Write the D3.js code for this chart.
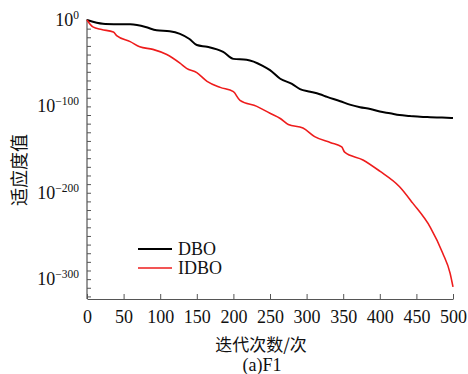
<!DOCTYPE html>
<html>
<head>
<meta charset="utf-8">
<script src="https://cdn.jsdelivr.net/npm/d3@7"></script>
<style>
body{margin:0;background:#fff;}
text{font-family:"Liberation Serif","DejaVu Serif",serif;fill:#111;}
.cjk{font-family:"Noto Sans CJK SC",sans-serif;}
</style>
</head>
<body>
<script>
// data (y values are log10 of fitness)
const dboIter = [0, 8, 25, 59, 80, 95, 113, 127, 140, 150, 164, 186, 200, 218, 240, 250, 264, 280, 291, 305, 318, 328, 346, 359, 373, 387, 400, 414, 427, 441, 455, 469, 485, 500];
const dboExp  = [0, -2, -4.6, -5, -8, -12, -13, -16, -22, -29, -31, -37, -45, -46, -53, -58, -68, -74, -80, -83, -86, -89, -94, -98, -101, -103, -106, -108, -110, -111, -112, -112.5, -113, -113.5];
const idboIter = [0, 8, 20, 36, 41, 59, 72, 90, 109, 127, 136, 150, 164, 182, 200, 209, 232, 250, 264, 275, 295, 311, 333, 348, 352, 377, 400, 427, 445, 469, 486, 496, 500];
const idboExp  = [0, -8, -11, -14, -18.5, -25, -31, -34, -40, -50, -56, -61, -71, -78, -83, -93, -100, -108, -114, -121, -125, -135, -142, -147, -153, -162, -175, -193, -212, -240, -270, -293, -309];
const xTicks = [0, 50, 100, 150, 200, 250, 300, 350, 400, 450, 500];
const yMajor = [0, -100, -200, -300];
const seriesNames = ['DBO', 'IDBO'];
const seriesColors = ['#000000', '#ee1c1c'];

const width = 468, height = 374;
const svg = d3.select('body').append('svg').attr('width', width).attr('height', height);

// scales
const x = d3.scaleLinear().domain([0, 500]).range([87, 453]);
const y = d3.scaleLinear().domain([-323, 0]).range([299, 20]);

// axes
const axisColor = '#555';
const gx = svg.append('g').attr('transform', 'translate(0,299)')
  .call(d3.axisBottom(x).tickValues(xTicks).tickSizeInner(-5).tickSizeOuter(0).tickPadding(11));
gx.selectAll('text').style('font-size', '18px').attr('fill', '#111');

let minor = d3.range(-320, 1, 10);
const gy = svg.append('g').attr('transform', 'translate(87,0)')
  .call(d3.axisLeft(y).tickValues(minor).tickSizeInner(-4).tickSizeOuter(0).tickFormat(''));
gy.select('.domain').attr('d', 'M0,' + y(-323) + 'V' + (y(0) - 1));

[gx, gy].forEach(g => {
  g.select('.domain').attr('stroke', axisColor).attr('stroke-width', 1.2);
  g.selectAll('.tick line').attr('stroke', axisColor);
});

// y tick labels as 10^n
const lab = svg.append('g');
yMajor.forEach(v => {
  const t = lab.append('text').attr('x', 79).attr('y', y(v) + 6).attr('text-anchor', 'end');
  t.append('tspan').style('font-size', '18px').text('10');
  t.append('tspan').attr('dy', -7).style('font-size', '11.5px').text(v === 0 ? '0' : '\u2212' + (-v));
});

// lines
const line = d3.line().x(d => x(d[0])).y(d => y(d[1])).curve(d3.curveMonotoneX);
const series = [d3.zip(dboIter, dboExp), d3.zip(idboIter, idboExp)];
svg.append('g').selectAll('path').data(series).join('path')
  .attr('d', line).attr('fill', 'none')
  .attr('stroke', (d, i) => seriesColors[i])
  .attr('stroke-width', (d, i) => i === 0 ? 2 : 1.6);

// legend
const leg = svg.append('g');
seriesNames.forEach((n, i) => {
  const yy = 249 + i * 19;
  leg.append('line').attr('x1', 138).attr('x2', 172).attr('y1', yy).attr('y2', yy)
    .attr('stroke', seriesColors[i]).attr('stroke-width', i === 0 ? 2 : 1.6);
  leg.append('text').attr('x', 178).attr('y', yy + 6).style('font-size', '18px').text(n);
});

// titles
svg.append('text').attr('class', 'cjk').attr('x', 261).attr('y', 351)
  .attr('text-anchor', 'middle').style('font-size', '17px').text('迭代次数/次');
svg.append('text').attr('x', 262).attr('y', 371)
  .attr('text-anchor', 'middle').style('font-size', '18px').text('(a)F1');
svg.append('text').attr('class', 'cjk').attr('transform', 'translate(26,170) rotate(-90)')
  .attr('text-anchor', 'middle').style('font-size', '18px').text('适应度值');
</script>
</body>
</html>
